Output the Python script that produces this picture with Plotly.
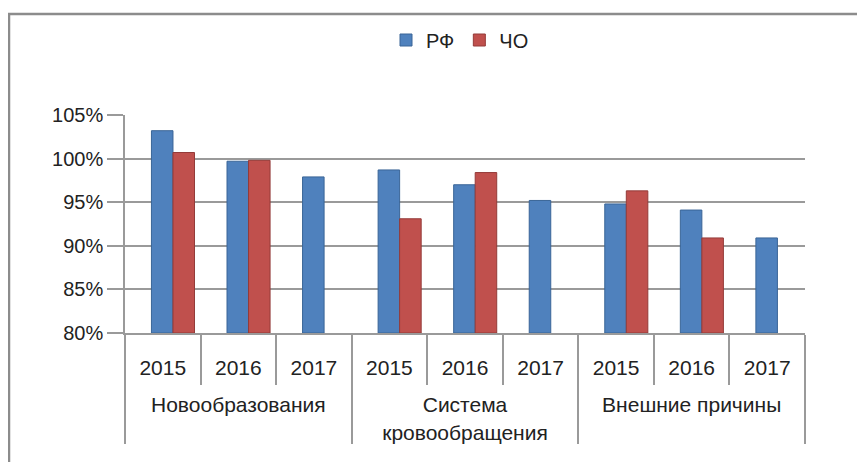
import plotly.graph_objects as go

groups = ["<br>Новообразования", "<br>Система<br>кровообращения", "<br>Внешние причины"]
years = ["2015", "2016", "2017"]
rf_values = [103.2, 99.7, 97.9, 98.7, 97.0, 95.2, 94.8, 94.1, 90.9]
cho_values = [100.7, 99.8, None, 93.1, 98.4, None, 96.3, 90.9, None]
y_ticks = [80, 85, 90, 95, 100, 105]
y_labels = ["80%", "85%", "90%", "95%", "100%", "105%"]
base_value = 80

x_outer = [g for g in groups for _ in years]
x_inner = [y for _ in groups for y in years]

FONT = "Liberation Sans"
fig = go.Figure()
fig.add_trace(go.Bar(name="РФ", x=[x_outer, x_inner],
                     y=[v - base_value for v in rf_values], base=base_value,
                     width=0.285, offset=-0.15,
                     marker=dict(color="#4F81BD", line=dict(color="#3A6597", width=1))))
fig.add_trace(go.Bar(name="ЧО", x=[x_outer, x_inner],
                     y=[None if v is None else v - base_value for v in cho_values], base=base_value,
                     width=0.285, offset=0.135,
                     marker=dict(color="#C0504D", line=dict(color="#943B39", width=1))))

# page body adds an 8px offset; layout coordinates are compensated
OFF = 8
W, H = 865, 462
L, T = 125 - OFF, 115 - OFF
R, B = W - (805 - OFF), H - (333 - OFF)
pw, ph = W - L - R, H - T - B
fig.update_layout(
    width=W, height=H,
    margin=dict(l=L, r=R, t=T, b=B),
    paper_bgcolor="white", plot_bgcolor="white",
    barmode="group",
    font=dict(family=FONT, size=21, color="#222222"),
    showlegend=True,
    legend=dict(orientation="h", x=(460 - OFF) / W, xanchor="center", xref="container",
                y=1 - (40 - OFF) / H, yanchor="middle", yref="container",
                font=dict(size=20), traceorder="normal"),
    shapes=[dict(type="rect", xref="paper", yref="paper",
                 x0=(9 - OFF - L) / pw, x1=(W + 20 - L) / pw,
                 y0=-(H + 20 - (T + ph)) / ph, y1=(T + ph - (14 - OFF)) / ph,
                 line=dict(color="#8C8C8C", width=2.5), layer="below")],
)
fig.update_yaxes(range=[80, 105], tickvals=y_ticks, ticktext=y_labels, automargin=False,
                 showgrid=True, gridcolor="#9A9A9A", gridwidth=1.5,
                 showline=True, linecolor="#9A9A9A", linewidth=1.5,
                 ticks="outside", ticklen=16, tickcolor="#9A9A9A", tickwidth=1.5,
                 tickfont=dict(size=20, color="#222222"), zeroline=False)
fig.update_xaxes(type="multicategory", automargin=False,
                 showline=True, linecolor="#9A9A9A", linewidth=1.5,
                 ticks="outside", ticklen=50, tickcolor="#9A9A9A", tickwidth=1.5,
                 ticklabelstandoff=15,
                 showdividers=True, dividercolor="#9A9A9A", dividerwidth=1.5,
                 tickfont=dict(size=21, color="#222222"))
fig.write_html("out.html")
